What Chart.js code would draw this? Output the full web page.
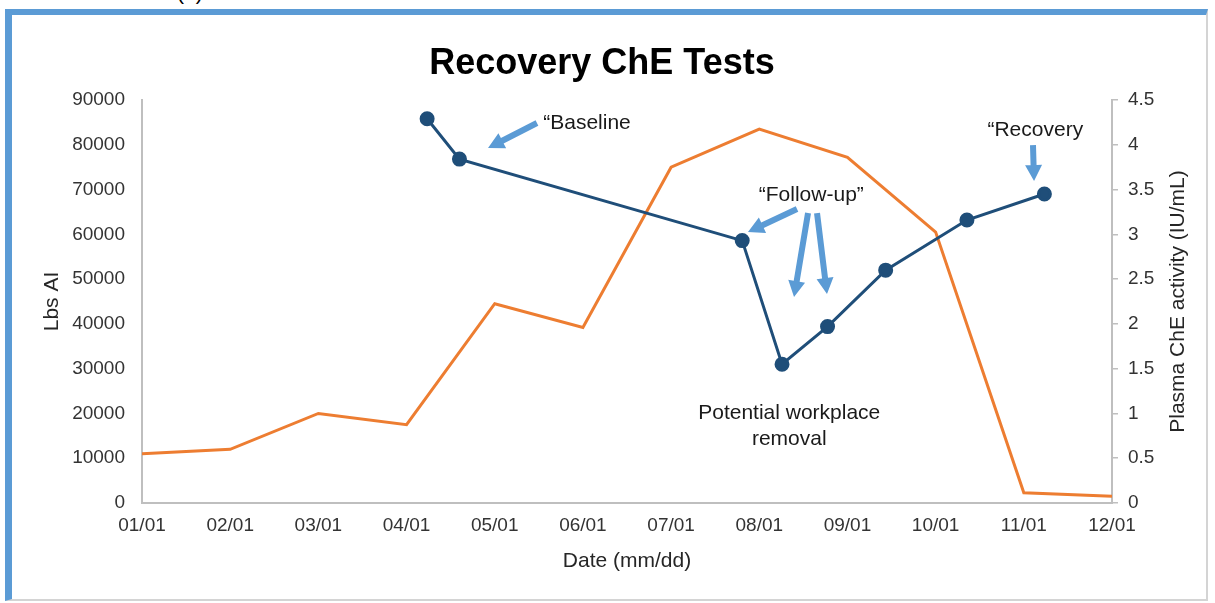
<!DOCTYPE html>
<html>
<head>
<meta charset="utf-8">
<script src="https://cdn.jsdelivr.net/npm/chart.js@4.4.1/dist/chart.umd.min.js"></script>
<style>
  html, body { margin: 0; padding: 0; background: #fff; }
  #wrap { position: relative; width: 1215px; height: 603px; overflow: hidden; }
  #frame {
    position: absolute; left: 5px; top: 9px; width: 1203px; height: 592px; box-sizing: border-box;
    border-left: 7px solid #5b9bd5; border-top: 6px solid #5b9bd5;
    border-right: 2px solid #d4d4d4; border-bottom: 2px solid #d4d4d4;
  }
  #panel { position: absolute; left: 177px; top: -18px; font: 21px "Liberation Sans", Arial, sans-serif; line-height: 21px; color: #000; }
  canvas { position: absolute; left: 0; top: 0; }
</style>
</head>
<body>
<div id="wrap">
  <div id="frame"></div>
  <div id="panel">(b)</div>
  <canvas id="grafica" width="1215" height="603"></canvas>
</div>
<script>
// monthly application amounts (left axis)
const months = ['01/01', '02/01', '03/01', '04/01', '05/01', '06/01', '07/01', '08/01', '09/01', '10/01', '11/01', '12/01'];
const lbsAI = [11000, 12000, 20000, 17500, 44500, 39200, 75000, 83500, 77200, 60500, 2300, 1500];

// plasma ChE tests (right axis)
const testDates = ['04/08', '04/19', '07/26', '08/09', '08/25', '09/14', '10/12', '11/08'];
const cheActivity = [4.29, 3.84, 2.93, 1.55, 1.97, 2.60, 3.16, 3.45];

const daysInMonth = [31, 28, 31, 30, 31, 30, 31, 31, 30, 31, 30, 31];

// notes and arrows, in months / IU/mL
const notas = [
  { text: '\u201CBaseline', x: 4.55, y: 4.24, align: 'left' },
  { text: '\u201CFollow-up\u201D', x: 7.59, y: 3.44, align: 'center' },
  { text: '\u201CRecovery', x: 10.13, y: 4.165, align: 'center' },
  { text: 'Potential workplace', x: 7.34, y: 1.005, align: 'center' },
  { text: 'removal', x: 7.34, y: 0.715, align: 'center' }
];
const flechas = [
  [4.479, 4.243, 3.924, 3.964],
  [7.428, 3.283, 6.872, 3.026],
  [7.553, 3.238, 7.394, 2.300],
  [7.655, 3.238, 7.768, 2.334],
  [10.104, 3.997, 10.116, 3.595]
];

const titulo = 'Recovery ChE Tests';

// mm/dd -> position in months from 01/01
function posMes(fecha) {
  const [m, d] = fecha.split('/').map(Number);
  return (m - 1) + (d - 1) / daysInMonth[m - 1];
}

const fuente = '"Liberation Sans", Arial, sans-serif';

function dibujarFlecha(ctx, x1, y1, x2, y2) {
  const ang = Math.atan2(y2 - y1, x2 - x1);
  const largo = Math.hypot(x2 - x1, y2 - y1);
  const cabeza = 16, media = 8.5, palo = 3;
  ctx.save();
  ctx.translate(x1, y1);
  ctx.rotate(ang);
  ctx.beginPath();
  ctx.moveTo(0, -palo);
  ctx.lineTo(largo - cabeza, -palo);
  ctx.lineTo(largo - cabeza, -media);
  ctx.lineTo(largo, 0);
  ctx.lineTo(largo - cabeza, media);
  ctx.lineTo(largo - cabeza, palo);
  ctx.lineTo(0, palo);
  ctx.closePath();
  ctx.fill();
  ctx.restore();
}

const anotaciones = {
  id: 'anotaciones',
  afterDatasetsDraw(chart) {
    const ctx = chart.ctx;
    const sx = chart.scales.x, sy = chart.scales.y2;
    const area = chart.chartArea;
    ctx.save();

    // title, a little left of the plot centre
    ctx.fillStyle = '#000';
    ctx.font = 'bold 36px ' + fuente;
    ctx.textAlign = 'center';
    ctx.textBaseline = 'middle';
    ctx.fillText(titulo, 602, 64);

    ctx.fillStyle = '#5b9bd5';
    flechas.forEach(f => {
      dibujarFlecha(ctx, sx.getPixelForValue(f[0]), sy.getPixelForValue(f[1]),
        sx.getPixelForValue(f[2]), sy.getPixelForValue(f[3]));
    });
    ctx.fillStyle = '#1a1a1a';
    ctx.font = '21px ' + fuente;
    notas.forEach(n => {
      ctx.textAlign = n.align;
      ctx.fillText(n.text, sx.getPixelForValue(n.x), sy.getPixelForValue(n.y));
    });
    // right axis title, reading bottom to top
    ctx.translate(sy.left + 66, (area.top + area.bottom) / 2);
    ctx.rotate(-Math.PI / 2);
    ctx.textAlign = 'center';
    ctx.fillStyle = '#262626';
    ctx.fillText('Plasma ChE activity (IU/mL)', 0, 0);
    ctx.restore();
  }
};

const config = {
  type: 'line',
  data: {
    datasets: [{
      label: 'Plasma ChE activity',
      data: testDates.map((f, i) => ({ x: posMes(f), y: cheActivity[i] })),
      yAxisID: 'y2',
      borderColor: '#1f4e79',
      backgroundColor: '#1f4e79',
      borderWidth: 3,
      pointRadius: 6,
      pointHoverRadius: 6,
      tension: 0
    }, {
      label: 'Lbs AI',
      data: months.map((m, i) => ({ x: i, y: lbsAI[i] })),
      yAxisID: 'y',
      borderColor: '#ed7d31',
      backgroundColor: '#ed7d31',
      borderWidth: 3,
      pointRadius: 0,
      tension: 0
    }]
  },
  options: {
    responsive: false,
    animation: false,
    layout: { padding: { left: 12, right: 0, top: 100, bottom: 0 } },
    plugins: {
      legend: { display: false },
      tooltip: { enabled: false },
      title: { display: false }
    },
    scales: {
      x: {
        type: 'linear',
        min: 0,
        max: 11,
        afterFit: s => { s.height = 100; },
        grid: { display: true, drawOnChartArea: false, drawTicks: false },
        border: { color: '#bfbfbf', width: 2 },
        ticks: {
          stepSize: 1,
          autoSkip: false,
          maxRotation: 0,
          padding: 11,
          color: '#333',
          font: { family: fuente, size: 19 },
          callback: v => months[v]
        },
        title: {
          display: true,
          text: 'Date (mm/dd)',
          color: '#262626',
          font: { family: fuente, size: 21 },
          padding: { top: 0, bottom: 29 }
        }
      },
      y: {
        position: 'left',
        min: 0,
        max: 90000,
        afterFit: s => { s.width = 130; },
        grid: { display: true, drawOnChartArea: false, drawTicks: false },
        border: { color: '#bfbfbf', width: 2 },
        ticks: {
          stepSize: 10000,
          padding: 17,
          color: '#333',
          font: { family: fuente, size: 19 },
          callback: v => String(v)
        },
        title: {
          display: true,
          text: 'Lbs AI',
          color: '#262626',
          font: { family: fuente, size: 21 },
          padding: { top: 28, bottom: 0 }
        }
      },
      y2: {
        position: 'right',
        min: 0,
        max: 4.5,
        afterFit: s => { s.width = 103; },
        grid: { display: true, drawOnChartArea: false, drawTicks: true, tickLength: 6, color: '#bfbfbf', lineWidth: 1.5 },
        border: { color: '#bfbfbf', width: 2 },
        ticks: {
          stepSize: 0.5,
          padding: 10,
          color: '#333',
          font: { family: fuente, size: 19 },
          callback: v => String(v)
        }
      }
    }
  },
  plugins: [anotaciones]
};

const myChart = new Chart(document.getElementById('grafica'), config);
</script>
</body>
</html>
